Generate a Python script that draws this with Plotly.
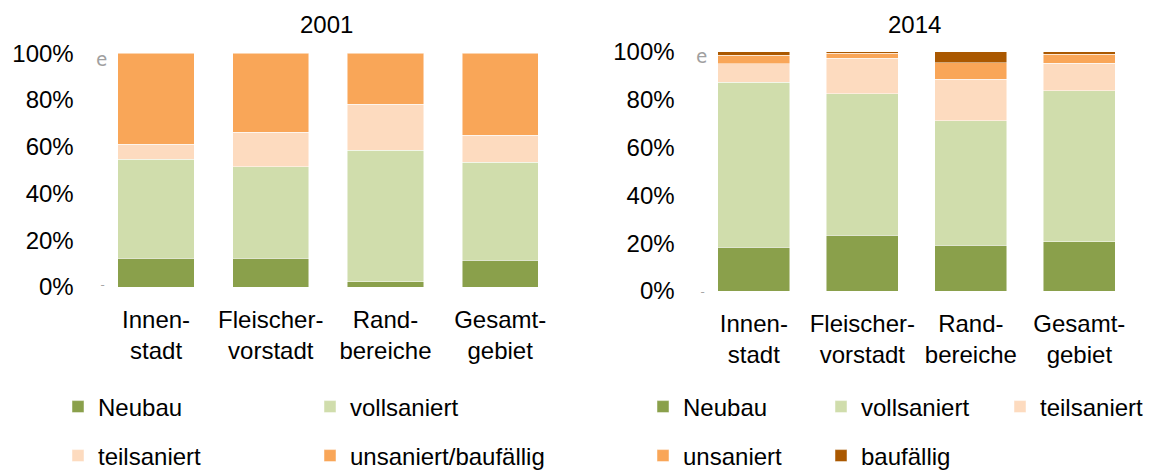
import plotly.graph_objects as go

# ---------------- data ----------------
categories = ["Innenstadt", "Fleischervorstadt", "Randbereiche", "Gesamtgebiet"]
category_labels = ["Innen-<br>stadt", "Fleischer-<br>vorstadt", "Rand-<br>bereiche", "Gesamt-<br>gebiet"]

# 2001 (shares)
neubau_2001 = [0.123, 0.124, 0.023, 0.114]
vollsaniert_2001 = [0.424, 0.390, 0.563, 0.420]
teilsaniert_2001 = [0.064, 0.149, 0.195, 0.116]
unsaniert_baufaellig_2001 = [0.389, 0.337, 0.219, 0.350]

# 2014 (shares)
neubau_2014 = [0.182, 0.234, 0.192, 0.205]
vollsaniert_2014 = [0.691, 0.591, 0.520, 0.631]
teilsaniert_2014 = [0.077, 0.147, 0.172, 0.115]
unsaniert_2014 = [0.036, 0.021, 0.069, 0.038]
baufaellig_2014 = [0.014, 0.007, 0.047, 0.011]

title_2001 = "2001"
title_2014 = "2014"

# ---------------- styles ----------------
C_NEU = "#8AA04B"
C_VOLL = "#D0DDAC"
C_TEIL = "#FDDBBF"
C_UNS = "#F9A658"
C_BAU = "#AA5800"
FONT = "Liberation Sans"
FS = 24
W, H = 1149, 471

fig = go.Figure()

line = dict(color="rgba(255,255,255,0.6)", width=0.8)

left = [
    ("Neubau", neubau_2001, C_NEU, "legend"),
    ("vollsaniert", vollsaniert_2001, C_VOLL, "legend"),
    ("teilsaniert", teilsaniert_2001, C_TEIL, "legend2"),
    ("unsaniert/baufällig", unsaniert_baufaellig_2001, C_UNS, "legend2"),
]
for name, vals, col, lg in left:
    fig.add_trace(go.Bar(x=categories, y=vals, name=name, marker=dict(color=col, line=line),
                         xaxis="x", yaxis="y", legend=lg, hoverinfo="skip"))

right = [
    ("Neubau", neubau_2014, C_NEU, "legend3"),
    ("vollsaniert", vollsaniert_2014, C_VOLL, "legend3"),
    ("teilsaniert", teilsaniert_2014, C_TEIL, "legend5"),
    ("unsaniert", unsaniert_2014, C_UNS, "legend4"),
    ("baufällig", baufaellig_2014, C_BAU, "legend4"),
]
for name, vals, col, lg in right:
    fig.add_trace(go.Bar(x=categories, y=vals, name=name, marker=dict(color=col, line=line),
                         xaxis="x2", yaxis="y2", legend=lg, hoverinfo="skip"))

def px_x(p):
    return p / W

def px_y(p):
    return 1 - p / H

xcommon = dict(type="category", tickmode="array", tickvals=categories, ticktext=category_labels,
               showgrid=False, zeroline=False, showline=False, ticks="",
               tickfont=dict(family=FONT, size=FS, color="#000000"), automargin=False,
               ticklabelstandoff=16)
ycommon = dict(range=[0, 1], tickformat=".0%", tickvals=[0, 0.2, 0.4, 0.6, 0.8, 1.0],
               showgrid=False, zeroline=False, showline=False, ticks="",
               tickfont=dict(family=FONT, size=FS, color="#000000"), automargin=False,
               ticklabelstandoff=24)

legcommon = dict(orientation="h", font=dict(family=FONT, size=FS, color="#000000"),
                 bgcolor="rgba(0,0,0,0)", yanchor="middle",
                 valign="middle", traceorder="normal")

fig.update_layout(
    width=W, height=H,
    margin=dict(l=0, r=0, t=0, b=0, pad=0, autoexpand=False),
    paper_bgcolor="white", plot_bgcolor="white",
    barmode="stack", bargap=0.335,
    font=dict(family=FONT, size=FS, color="#000000"),
    xaxis=dict(domain=[px_x(98.7), px_x(557.5)], anchor="y", **xcommon),
    yaxis=dict(domain=[px_y(287), px_y(53.3)], anchor="x", **ycommon),
    xaxis2=dict(domain=[px_x(699.6), px_x(1133.6)], anchor="y2", **xcommon),
    yaxis2=dict(domain=[px_y(291), px_y(51.7)], anchor="x2", **ycommon),
    legend=dict(x=px_x(58), y=px_y(407), xanchor="left", entrywidthmode="pixels",
                entrywidth=207, **legcommon),
    legend2=dict(x=px_x(58), y=px_y(456), xanchor="left", entrywidthmode="pixels",
                 entrywidth=207, **legcommon),
    legend3=dict(x=px_x(643), y=px_y(407), xanchor="left", entrywidthmode="pixels",
                 entrywidth=133, **legcommon),
    legend4=dict(x=px_x(643), y=px_y(456), xanchor="left", entrywidthmode="pixels",
                 entrywidth=133, **legcommon),
    legend5=dict(x=1.0, y=px_y(407), xanchor="right", **legcommon),
    showlegend=True,
)

annotations = [
    dict(text=title_2001, x=px_x(326), y=px_y(25), xref="paper", yref="paper",
         showarrow=False, xanchor="center", yanchor="middle",
         font=dict(family=FONT, size=FS, color="#000000")),
    dict(text=title_2014, x=px_x(914), y=px_y(25), xref="paper", yref="paper",
         showarrow=False, xanchor="center", yanchor="middle",
         font=dict(family=FONT, size=FS, color="#000000")),
    dict(text="e", x=px_x(101.5), y=px_y(59), xref="paper", yref="paper",
         showarrow=False, xanchor="center", yanchor="middle",
         font=dict(family="DejaVu Sans Mono", size=19, color="#A0A0A0")),
    dict(text="e", x=px_x(701), y=px_y(56.5), xref="paper", yref="paper",
         showarrow=False, xanchor="center", yanchor="middle",
         font=dict(family="DejaVu Sans Mono", size=19, color="#A0A0A0")),
    dict(text="-", x=px_x(102), y=px_y(285), xref="paper", yref="paper",
         showarrow=False, xanchor="center", yanchor="middle",
         font=dict(family="DejaVu Sans Mono", size=12, color="#A6A6A6")),
    dict(text="-", x=px_x(702), y=px_y(291.5), xref="paper", yref="paper",
         showarrow=False, xanchor="center", yanchor="middle",
         font=dict(family="DejaVu Sans Mono", size=12, color="#A6A6A6")),
]
fig.update_layout(annotations=annotations)

post = (
    "document.documentElement.style.cssText='margin:0;padding:0;overflow:hidden;height:471px;width:1149px';"
    "document.body.style.cssText='margin:0;padding:0;overflow:hidden;height:471px;width:1149px';"
    "var d=document.getElementById('{plot_id}');"
    "d.style.overflow='hidden';"
)

fig.write_html(
    "out.html",
    config={"displayModeBar": False, "staticPlot": True},
    post_script=post,
)
